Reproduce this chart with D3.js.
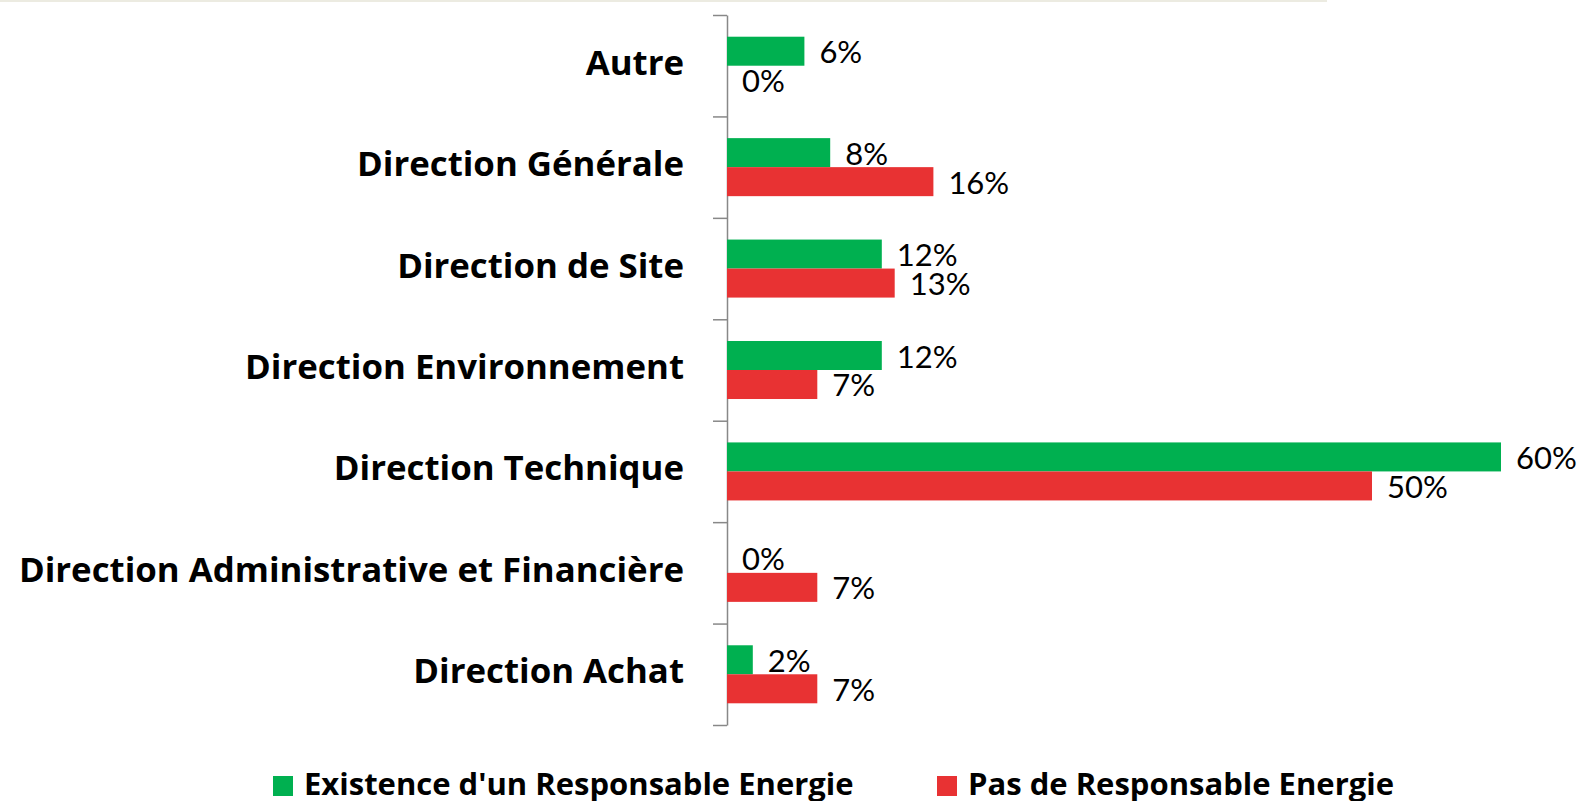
<!DOCTYPE html>
<html>
<head>
<meta charset="utf-8">
<script src="https://cdn.jsdelivr.net/npm/d3@7"></script>
<style>
  body { margin: 0; background: #fff; }
  svg { display: block; }
  text { font-variant-ligatures: none; }
</style>
</head>
<body>
<div id="chart"></div>
<script>
const categories = [
    "Autre",
    "Direction Générale",
    "Direction de Site",
    "Direction Environnement",
    "Direction Technique",
    "Direction Administrative et Financière",
    "Direction Achat"
];
const seriesNames = ["Existence d'un Responsable Energie", "Pas de Responsable Energie"];
const withManager = [6, 8, 12, 12, 60, 0, 2];
const withoutManager = [0, 16, 13, 7, 50, 7, 7];
const colors = ["#00b050", "#e83233"];

const width = 1585, height = 801;

const svg = d3.select("#chart").append("svg")
    .attr("width", width)
    .attr("height", height);

// thin line at the very top
svg.append("rect")
    .attr("x", 0).attr("y", 0)
    .attr("width", 1327).attr("height", 2)
    .attr("fill", "#ecebe1");

const y = d3.scaleBand()
    .domain(categories)
    .range([15, 725])
    .paddingInner(0.428)
    .paddingOuter(0.214);

const ySeries = d3.scaleBand()
    .domain([0, 1])
    .range([0, y.bandwidth()]);

const x = d3.scaleLinear()
    .domain([0, 60])
    .range([727, 1501]);

// axis with ticks between categories
const yEdges = d3.scaleLinear()
    .domain([0, categories.length])
    .range([15, 725]);

const axis = svg.append("g")
    .attr("transform", `translate(${x(0)},0)`)
    .call(d3.axisLeft(yEdges)
        .tickValues(d3.range(categories.length + 1))
        .tickSize(14)
        .tickSizeOuter(0)
        .tickFormat(""));
axis.selectAll("path, line")
    .attr("stroke", "#888")
    .attr("stroke-width", 1.5);

const rows = categories.map((c, i) => ({ cat: c, values: [withManager[i], withoutManager[i]] }));

const groups = svg.selectAll(".row")
    .data(rows)
    .enter()
    .append("g")
    .attr("class", "row")
    .attr("transform", d => `translate(0,${y(d.cat)})`);

groups.selectAll("rect")
    .data(d => d.values)
    .enter()
    .append("rect")
    .attr("x", x(0))
    .attr("y", (v, i) => ySeries(i))
    .attr("width", v => x(v) - x(0))
    .attr("height", ySeries.bandwidth())
    .attr("fill", (v, i) => colors[i]);

groups.selectAll(".val")
    .data(d => d.values)
    .enter()
    .append("text")
    .attr("class", "val")
    .attr("x", v => x(v) + 15)
    .attr("y", (v, i) => ySeries(i) + ySeries.bandwidth() / 2 + 12)
    .attr("font-family", "Lato, sans-serif")
    .attr("font-size", 31)
    .attr("fill", "#000")
    .text(v => v + "%");

// category labels
svg.selectAll(".cat")
    .data(categories)
    .enter()
    .append("text")
    .attr("class", "cat")
    .attr("x", 684)
    .attr("y", d => y(d) + y.bandwidth() / 2 + 9)
    .attr("text-anchor", "end")
    .attr("font-family", "'Open Sans', sans-serif")
    .attr("font-weight", "bold")
    .attr("font-size", 34.8)
    .attr("fill", "#000")
    .text(d => d);

// legend
const legendX = [273, 937];
const legend = svg.selectAll(".legend")
    .data(seriesNames)
    .enter()
    .append("g")
    .attr("class", "legend")
    .attr("transform", (d, i) => `translate(${legendX[i]},776)`);

legend.append("rect")
    .attr("width", 20)
    .attr("height", 20)
    .attr("fill", (d, i) => colors[i]);

legend.append("text")
    .attr("x", 31)
    .attr("y", 19)
    .attr("font-family", "'Open Sans', sans-serif")
    .attr("font-weight", "bold")
    .attr("font-size", 31)
    .attr("fill", "#000")
    .text(d => d);
</script>
</body>
</html>
